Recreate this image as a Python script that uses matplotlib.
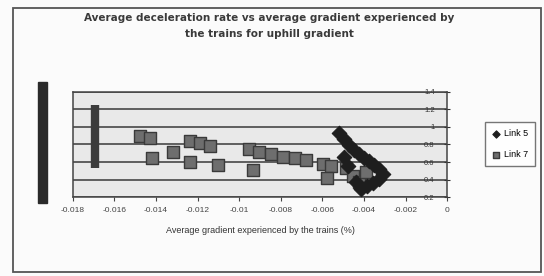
import numpy as np
import matplotlib.pyplot as plt
from matplotlib.patches import Rectangle

plt.rcParams['font.family'] = ['Liberation Sans', 'DejaVu Sans']

# Link 5 (diamonds) - avg gradient vs avg deceleration
link5_x = [-0.00521, -0.00497, -0.00473, -0.00449, -0.00425, -0.00400, -0.00376,
           -0.00352, -0.00328, -0.00309, -0.00328, -0.00357, -0.00386, -0.00415,
           -0.00497, -0.00478, -0.00439]
link5_y = [0.931, 0.863, 0.794, 0.737, 0.691, 0.646, 0.611,
           0.566, 0.520, 0.463, 0.406, 0.360, 0.326, 0.291,
           0.657, 0.554, 0.371]

# Link 7 (squares)
link7_x = [-0.01477, -0.01428, -0.01419, -0.01317, -0.01235, -0.01187, -0.01139,
           -0.01235, -0.01100, -0.00955, -0.00907, -0.00936, -0.00849, -0.00791,
           -0.00734, -0.00680, -0.00598, -0.00560, -0.00579, -0.00487, -0.00454,
           -0.00425, -0.00391]
link7_y = [0.897, 0.874, 0.646, 0.714, 0.840, 0.817, 0.783,
           0.600, 0.566, 0.749, 0.714, 0.509, 0.691, 0.657,
           0.646, 0.623, 0.577, 0.554, 0.417, 0.531, 0.440,
           0.371, 0.486]

# dark vertical bar inside the plot (scan artefact)
bar_x = [-0.01694]
bar_lo = [0.531]
bar_hi = [1.251]

xticks = [-0.018, -0.016, -0.014, -0.012, -0.01, -0.008, -0.006, -0.004, -0.002, 0]
xlabels = ['-0.018', '-0.016', '-0.014', '-0.012', '-0.01', '-0.008', '-0.006', '-0.004', '-0.002', '0']
yticks = [0.2, 0.4, 0.6, 0.8, 1.0, 1.2, 1.4]
ylabels = ['0.2', '0.4', '0.6', '0.8', '1', '1.2', '1.4']

fig = plt.figure(figsize=(5.44, 2.76), dpi=100, facecolor='#fbfbfb')
ax = fig.add_axes([0.134, 0.286, 0.688, 0.381])
ax.set_facecolor('#e9e9e9')

# outer chart frame
fig.patches.append(Rectangle((0.024, 0.015), 0.970, 0.956, transform=fig.transFigure,
                             fill=False, edgecolor='#555555', lw=1.3))

ax.vlines(bar_x, bar_lo, bar_hi, colors='#3c3c3c', lw=6, zorder=3)
ax.scatter(link7_x, link7_y, marker='s', s=85, c='#6e6e6e', edgecolors='#3a3a3a',
           linewidths=1.0, zorder=4, label='Link 7')
ax.scatter(link5_x, link5_y, marker='D', s=55, c='#1e1e1e', edgecolors='#1e1e1e',
           linewidths=0.8, zorder=5, label='Link 5')

ax.set_xlim(-0.018, 0)
ax.set_ylim(0.2, 1.4)
ax.set_xticks(xticks)
ax.set_xticklabels(xlabels, fontsize=6, color='#333333')
ax.set_yticks(yticks)
ax.set_yticklabels(ylabels, fontsize=5.5, color='#333333', ha='right')
ax.yaxis.grid(True, color='#3a3a3a', lw=1.1)
ax.set_axisbelow(True)
ax.tick_params(axis='y', left=False, right=True, labelleft=False, labelright=True,
               direction='inout', length=4, pad=-11, colors='#333333')
ax.tick_params(axis='x', direction='out', length=3, pad=4, colors='#444444')
for s in ax.spines.values():
    s.set_color('#444444')
    s.set_linewidth(1.1)

ax.set_xlabel('Average gradient experienced by the trains (%)', fontsize=6.5,
              color='#333333', labelpad=9)

fig.text(0.495, 0.935, 'Average deceleration rate vs average gradient experienced by',
         ha='center', va='center', fontsize=7.5, fontweight='bold', color='#3a3a3a',
         family='DejaVu Sans')
fig.text(0.495, 0.876, 'the trains for uphill gradient', ha='center', va='center',
         fontsize=7.5, fontweight='bold', color='#3a3a3a', family='DejaVu Sans')

# y-axis title, rendered as a dark vertical block like the scan
fig.text(0.078, 0.484, 'Average deceleration rate (m/s2)', rotation=90, ha='center',
         va='center', fontsize=5.9, color='#2a2a2a',
         bbox=dict(facecolor='#2a2a2a', edgecolor='#2a2a2a', pad=1))

handles, labels = ax.get_legend_handles_labels()
leg = fig.legend(handles[::-1], labels[::-1], loc='center', bbox_to_anchor=(0.937, 0.478),
                 fontsize=6.5, frameon=True, fancybox=False, edgecolor='#555555',
                 handletextpad=0.3, borderpad=0.8, labelspacing=1.3, markerscale=0.5,
                 handlelength=1.0)
leg.get_frame().set_linewidth(1.0)

fig.savefig('out.png', dpi=100, facecolor=fig.get_facecolor())
